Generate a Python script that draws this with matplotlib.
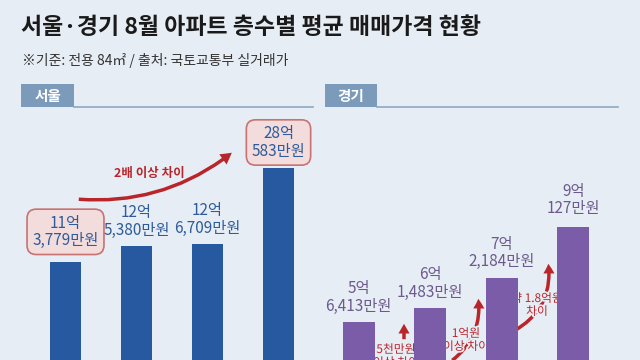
import numpy as np
import matplotlib
matplotlib.use("Agg")
import matplotlib.pyplot as plt
from matplotlib.patches import Rectangle
import matplotlib.patheffects as pe

plt.rcParams["font.family"] = ["Noto Sans CJK KR", "DejaVu Sans"]

# data: 8월 아파트 층수별 평균 매매가격 (억 + 만원)
floors = ["1", "2", "3", "4"]
seoul_eok = [11, 12, 12, 28]
seoul_man = [3779, 5380, 6709, 583]
gg_eok = [5, 6, 7, 9]
gg_man = [6413, 1483, 2184, 127]
gg_gap_labels = ["5천만원\n이상 차이", "1억원\n이상 차이", "약 1.8억원\n차이"]
seoul_gap_label = "2배 이상 차이"

seoul_val = [e + m / 10000 for e, m in zip(seoul_eok, seoul_man)]
gg_val = [e + m / 10000 for e, m in zip(gg_eok, gg_man)]

BG = "#e7edf4"
SEOUL_BAR = "#2659a0"
GG_BAR = "#7a5ca8"
SEOUL_TXT = "#2d5b9b"
GG_TXT = "#6c5a8e"
RED = "#b8262b"
HEAD_BOX = "#7c9bbb"
HEAD_LINE = "#8ea8c2"

W, H = 640, 360
fig = plt.figure(figsize=(6.4, 3.6), dpi=100, facecolor=BG)

# overlay for title and section headers (pixel coords, y down)
ov = fig.add_axes([0, 0, 1, 1])
ov.set_xlim(0, W)
ov.set_ylim(H, 0)
ov.axis("off")
ov.text(21, 27, "서울·경기 8월 아파트 층수별 평균 매매가격 현황", fontsize=16.5,
        fontweight="bold", color="#1a1a1a", va="center", ha="left")
ov.text(22, 60, "※기준: 전용 84㎡ / 출처: 국토교통부 실거래가", fontsize=10,
        color="#333333", va="center", ha="left")
for x0, x1, x2, name in [(21, 74, 313, "서울"), (325, 377, 618, "경기")]:
    ov.add_patch(Rectangle((x0, 84), x1 - x0, 23, facecolor=HEAD_BOX, edgecolor="none"))
    ov.plot([x1, x2], [106.5, 106.5], color=HEAD_LINE, lw=1.2)
    ov.text((x0 + x1) / 2, 95.5, name, color="white", fontsize=10.5,
            fontweight="bold", ha="center", va="center")


def fwd(v):
    v = np.asarray(v, dtype=float)
    return np.where(v <= 13, v, 13 + (v - 13) * 0.338)


def inv(t):
    t = np.asarray(t, dtype=float)
    return np.where(t <= 13, t, 13 + (t - 13) / 0.338)


def clean(ax):
    ax.set_facecolor("none")
    for s in ax.spines.values():
        s.set_visible(False)
    ax.set_xticks([])
    ax.set_yticks([])
    ax.set_xlim(-0.5, 3.5)


x = np.arange(len(floors))

# 서울
ax1 = fig.add_axes([30 / W, 0, 284 / W, 250 / H])
ax1.set_yscale("function", functions=(fwd, inv))
ax1.set_ylim(4.32, 40.5)
clean(ax1)
ax1.bar(x, seoul_val, width=0.45, color=SEOUL_BAR)
box = dict(boxstyle="round,pad=0.35,rounding_size=0.6", facecolor="#f2dcdc",
           edgecolor="#c87272", lw=1.2)
for i, (e, m, v) in enumerate(zip(seoul_eok, seoul_man, seoul_val)):
    boxed = i in (0, 3)
    off = 30 if i == 0 else (26 if i == 3 else 24.5)
    ax1.annotate(f"{e}억\n{m:,}만원", (x[i], v), xytext=(0, off),
                 textcoords="offset pixels", ha="center", va="center",
                 fontsize=11, fontweight="medium", color=SEOUL_TXT, linespacing=1.05,
                 bbox=box if boxed else None)
ov.annotate("", xy=(234, 151), xytext=(76, 199),
            arrowprops=dict(arrowstyle="simple,head_width=0.9,head_length=0.8,tail_width=0.25",
                            connectionstyle="arc3,rad=0.2", color=RED, lw=0))
ov.text(149, 173, seoul_gap_label, fontsize=9, fontweight="bold", color=RED,
        ha="center", va="center")

# 경기
ax2 = fig.add_axes([323 / W, 0, 286 / W, 250 / H])
ax2.set_ylim(4.29, 13.17)
clean(ax2)
ax2.bar(x, gg_val, width=0.45, color=GG_BAR)
for i, (e, m, v) in enumerate(zip(gg_eok, gg_man, gg_val)):
    off = 27 if i == 3 else 24.5
    ax2.annotate(f"{e}억\n{m:,}만원", (x[i], v), xytext=(0, off),
                 textcoords="offset pixels", ha="center", va="center",
                 fontsize=11, fontweight="medium", color=GG_TXT, linespacing=1.05)

stroke = [pe.withStroke(linewidth=2.5, foreground=BG)]
arrows = [((404, 342), (404, 321), 0.0), ((450, 362), (478, 296), 0.3),
          ((512, 332), (548, 261), 0.35)]
texts = [(396, 356), (466, 340), (537, 305)]
for (st, en, rad), (tx, ty), lab in zip(arrows, texts, gg_gap_labels):
    ov.annotate("", xy=en, xytext=st,
                arrowprops=dict(arrowstyle="simple,head_width=0.8,head_length=0.7,tail_width=0.25",
                                connectionstyle=f"arc3,rad={rad}", color=RED, lw=0))
    ov.text(tx, ty, lab, fontsize=8.5, color=RED, ha="center", va="center",
            linespacing=1.0, path_effects=stroke)

fig.savefig("out.png", dpi=100, facecolor=BG)
